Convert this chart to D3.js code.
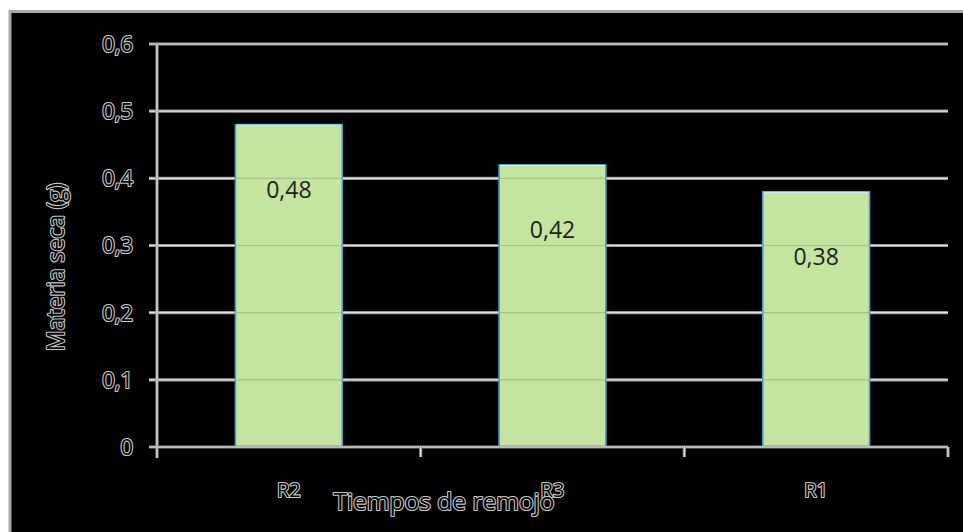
<!DOCTYPE html>
<html>
<head>
<meta charset="utf-8">
<script src="https://cdn.jsdelivr.net/npm/d3@7"></script>
<style>
  html, body { margin: 0; padding: 0; background: #ffffff; }
  svg { display: block; }
  .outline { fill: #050505; stroke: #c8c8c8; stroke-width: 2.2px; paint-order: stroke; stroke-linejoin: round; font-family: "Open Sans", Lato, sans-serif; }
</style>
</head>
<body>
<svg id="chart" width="963" height="532"></svg>
<script>
// Dry matter per soaking time
const categories = ["R2", "R3", "R1"];
const values = [0.48, 0.42, 0.38];
const valueLabels = ["0,48", "0,42", "0,38"];
const yTicks = [0, 0.1, 0.2, 0.3, 0.4, 0.5, 0.6];
const yTickLabels = ["0", "0,1", "0,2", "0,3", "0,4", "0,5", "0,6"];
const xTitle = "Tiempos de remojo";
const yTitle = "Materia seca  (g)";

const svg = d3.select("#chart");
const W = 963, H = 532;
const plot = { left: 157, right: 948, top: 44, bottom: 447 };

// Outer frame
svg.append("rect").attr("x", 10).attr("y", 11.5).attr("width", W).attr("height", H)
  .attr("fill", "#000").attr("stroke", "#a8a8a8").attr("stroke-width", 3);

const x = d3.scaleBand().domain(categories).range([plot.left, plot.right]).paddingInner(0.595).paddingOuter(0.2975);
const y = d3.scaleLinear().domain([0, 0.6]).range([plot.bottom, plot.top]);

const band = d3.scaleBand().domain(categories).range([plot.left, plot.right]);

// Gridlines (light double stroke)
const grid = svg.append("g");
grid.selectAll("line.g1").data(yTicks.slice(1)).join("line")
  .attr("x1", plot.left - 8).attr("x2", plot.right)
  .attr("y1", d => y(d)).attr("y2", d => y(d))
  .attr("stroke", "#9a9a9a").attr("stroke-width", 3.2);
grid.selectAll("line.g2").data(yTicks.slice(1)).join("line")
  .attr("x1", plot.left - 8).attr("x2", plot.right)
  .attr("y1", d => y(d)).attr("y2", d => y(d))
  .attr("stroke", "#e2e2e2").attr("stroke-width", 1.2);

// Bars
svg.append("g").selectAll("rect").data(values).join("rect")
  .attr("x", (d, i) => x(categories[i]))
  .attr("y", d => y(d))
  .attr("width", x.bandwidth())
  .attr("height", d => y(0) - y(d))
  .attr("fill", "#c4e5a0")
  .attr("stroke", "#4f9cd2").attr("stroke-width", 1.6);
// top highlight of each bar
svg.append("g").selectAll("line").data(values).join("line")
  .attr("x1", (d, i) => x(categories[i]) + 1).attr("x2", (d, i) => x(categories[i]) + x.bandwidth() - 1)
  .attr("y1", d => y(d) + 0.5).attr("y2", d => y(d) + 0.5)
  .attr("stroke", "#e8f4ff").attr("stroke-width", 1);

// Gridlines seen through the bars
const clip = svg.append("clipPath").attr("id", "barclip");
clip.selectAll("rect").data(values).join("rect")
  .attr("x", (d, i) => x(categories[i]) + 1).attr("y", d => y(d) + 1)
  .attr("width", x.bandwidth() - 2).attr("height", d => y(0) - y(d) - 1);
svg.append("g").attr("clip-path", "url(#barclip)")
  .selectAll("line").data(yTicks.slice(1)).join("line")
  .attr("x1", plot.left).attr("x2", plot.right)
  .attr("y1", d => y(d)).attr("y2", d => y(d))
  .attr("stroke", "#6a8a50").attr("stroke-opacity", 0.35).attr("stroke-width", 1.2);

// Axes
function doubleLine(g, x1, y1, x2, y2) {
  g.append("line").attr("x1", x1).attr("y1", y1).attr("x2", x2).attr("y2", y2)
    .attr("stroke", "#8e8e8e").attr("stroke-width", 3.2);
  g.append("line").attr("x1", x1).attr("y1", y1).attr("x2", x2).attr("y2", y2)
    .attr("stroke", "#e6e6e6").attr("stroke-width", 1.2);
}
const axes = svg.append("g");
doubleLine(axes, plot.left, plot.top - 1, plot.left, plot.bottom + 11);
doubleLine(axes, plot.left - 8, plot.bottom, plot.right, plot.bottom);
// category boundary ticks
const boundaries = categories.map(c => band(c) + band.bandwidth());
boundaries.forEach(b => doubleLine(axes, b, plot.bottom, b, plot.bottom + 10));

// Y tick labels
svg.append("g").selectAll("text").data(yTicks).join("text")
  .attr("class", "outline")
  .attr("x", plot.left - 24).attr("y", d => y(d))
  .attr("dy", "0.36em").attr("text-anchor", "end")
  .attr("font-size", 22)
  .text((d, i) => yTickLabels[i]);

// Category labels
svg.append("g").selectAll("text").data(categories).join("text")
  .attr("class", "outline")
  .attr("x", d => band(d) + band.bandwidth() / 2)
  .attr("y", (d, i) => 497)
  .attr("text-anchor", "middle").attr("font-size", 20)
  .text(d => d);

// Data labels
svg.append("g").selectAll("text").data(values).join("text")
  .attr("x", (d, i) => x(categories[i]) + x.bandwidth() / 2)
  .attr("y", d => y(d) + 65)
  .attr("dy", "0.35em").attr("text-anchor", "middle")
  .attr("font-family", "'Open Sans', Lato, sans-serif").attr("font-size", 23)
  .attr("fill", "#1e1e1e")
  .text((d, i) => valueLabels[i]);

// Axis titles
svg.append("text").attr("class", "outline")
  .attr("x", 444).attr("y", 510).attr("text-anchor", "middle")
  .attr("font-size", 24.5).text(xTitle);
svg.append("text").attr("class", "outline")
  .attr("transform", "translate(64,267) rotate(-90)")
  .attr("text-anchor", "middle").attr("font-size", 23).text(yTitle);
</script>
</body>
</html>
